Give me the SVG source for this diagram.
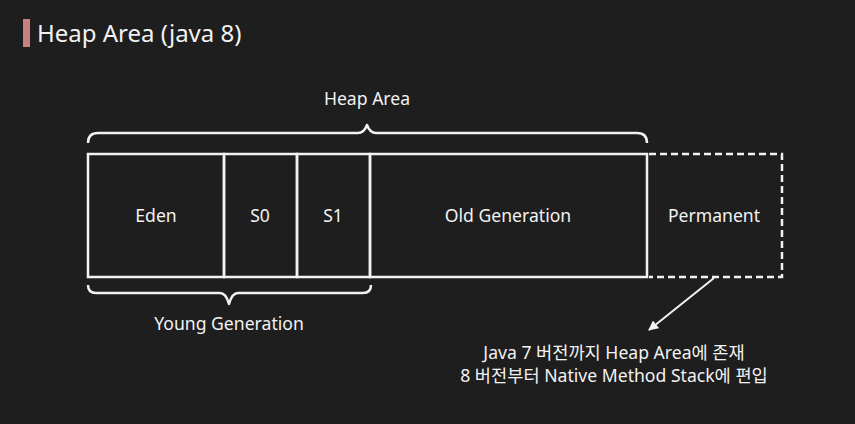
<svg xmlns="http://www.w3.org/2000/svg" width="855" height="424" viewBox="0 0 855 424">
<style>
text{font-family:"Noto Sans","Noto Sans CJK KR",sans-serif;fill:#f2f2f2;font-size:17.6px}
.c{text-anchor:middle}
.box{fill:none;stroke:#f2f2f2;stroke-width:2.5}
.dash{fill:none;stroke:#f2f2f2;stroke-width:2.5;stroke-dasharray:7 4}
.brace{fill:none;stroke:#f2f2f2;stroke-width:2.5;stroke-linejoin:round}
</style>
<defs>
<marker id="ah" viewBox="0 0 10 10" refX="9" refY="5" markerWidth="5" markerHeight="5" orient="auto">
<path d="M0,0 L10,5 L0,10 z" fill="#f2f2f2"/>
</marker>
</defs>
<rect width="855" height="424" fill="#1e1e1e"/>
<g id="title">
<rect x="23" y="19" width="7" height="28" fill="#c97f7f"/>
<text x="37" y="42" style="font-size:24px">Heap Area (java 8)</text>
</g>
<g id="heap-brace">
<path class="brace" d="M88,143 Q88,133 98,133 L358,133 Q364,133 367,125 Q370,133 376,133 L637,133 Q647,133 647,143"/>
<text class="c" x="367" y="105">Heap Area</text>
</g>
<g id="eden"><rect class="box" x="88" y="154" width="136" height="123"/><text class="c" x="156" y="222">Eden</text></g>
<g id="s0"><rect class="box" x="224" y="154" width="73" height="123"/><text class="c" x="260" y="222">S0</text></g>
<g id="s1"><rect class="box" x="297" y="154" width="73" height="123"/><text class="c" x="333" y="222">S1</text></g>
<g id="old"><rect class="box" x="370" y="154" width="277" height="123"/><text class="c" x="508" y="222">Old Generation</text></g>
<g id="permanent"><path class="dash" d="M649,154 L782,154 L782,277 L649,277"/><text class="c" x="714" y="222">Permanent</text></g>
<g id="young-brace">
<path class="brace" d="M88,285 Q88,293 96,293 L220,293 Q226,293 229,304 Q232,293 238,293 L363,293 Q371,293 371,285"/>
<text class="c" x="229" y="330">Young Generation</text>
</g>
<g id="connectors">
<line x1="714" y1="278" x2="649" y2="330" stroke="#f2f2f2" stroke-width="2" marker-end="url(#ah)"/>
</g>
<g id="note">
<text class="c" x="614" y="359">Java 7 버전까지 Heap Area에 존재</text>
<text class="c" x="614" y="382">8 버전부터 Native Method Stack에 편입</text>
</g>
</svg>
